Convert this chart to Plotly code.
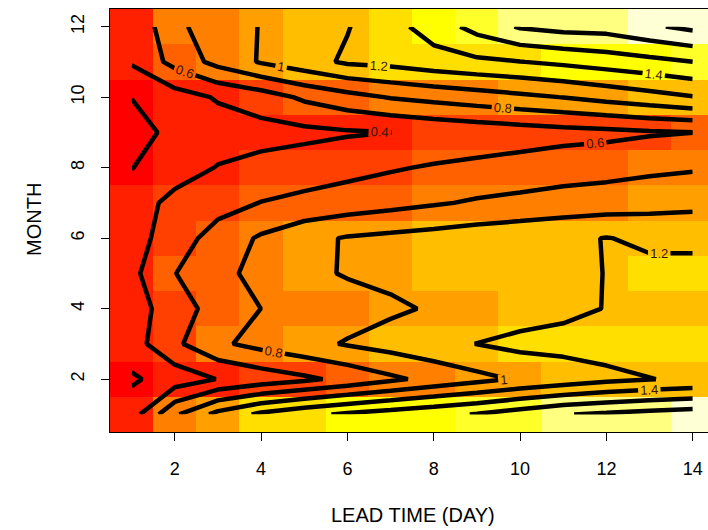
import plotly.graph_objects as go

# Lead time (days) and months
days = list(range(1, 15))
months = list(range(1, 13))

# Values per month (rows: month 1..12, columns: lead day 1..14)
m01 = [0.31, 0.77, 1.06, 1.24, 1.35, 1.43, 1.49, 1.55, 1.61, 1.70, 1.79, 1.83, 1.87, 1.90]
m02 = [0.172, 0.289, 0.406, 0.484, 0.56, 0.654, 0.762, 0.857, 0.943, 1.02, 1.08, 1.15, 1.195, 1.23]
m03 = [0.314, 0.56, 0.765, 0.864, 0.942, 1.016, 1.078, 1.14, 1.203, 1.256, 1.27, 1.28, 1.30, 1.32]
m04 = [0.30, 0.514, 0.675, 0.801, 0.856, 0.912, 0.968, 1.02, 1.067, 1.10, 1.15, 1.207, 1.215, 1.22]
m05 = [0.351, 0.595, 0.745, 0.859, 0.953, 1.016, 1.047, 1.078, 1.11, 1.14, 1.17, 1.203, 1.24, 1.28]
m06 = [0.314, 0.506, 0.68, 0.826, 0.942, 1.016, 1.047, 1.078, 1.11, 1.14, 1.17, 1.205, 1.17, 1.14]
m07 = [0.29, 0.465, 0.53, 0.605, 0.65, 0.69, 0.735, 0.78, 0.823, 0.85, 0.88, 0.90, 0.925, 0.953]
m08 = [0.195, 0.30, 0.41, 0.46, 0.50, 0.54, 0.58, 0.62, 0.65, 0.68, 0.71, 0.73, 0.76, 0.78]
m09 = [0.10, 0.267, 0.30, 0.33, 0.35, 0.38, 0.399, 0.44, 0.47, 0.50, 0.53, 0.55, 0.58, 0.598]
m10 = [0.205, 0.31, 0.42, 0.50, 0.635, 0.731, 0.813, 0.861, 0.909, 0.957, 1.005, 1.067, 1.128, 1.19]
m11 = [0.42, 0.665, 0.863, 1.018, 1.123, 1.23, 1.26, 1.32, 1.36, 1.395, 1.44, 1.49, 1.54, 1.598]
m12 = [0.42, 0.76, 0.89, 1.01, 1.10, 1.19, 1.33, 1.49, 1.67, 1.82, 1.87, 1.88, 1.97, 2.05]

z = [m01, m02, m03, m04, m05, m06, m07, m08, m09, m10, m11, m12]

x_ticks = [2, 4, 6, 8, 10, 12, 14]
y_ticks = [2, 4, 6, 8, 10, 12]

# R heat.colors(12)
heat = ["#FF0000", "#FF2000", "#FF4000", "#FF6000", "#FF8000", "#FF9F00",
        "#FFBF00", "#FFDF00", "#FFFF00", "#FFFF2A", "#FFFF80", "#FFFFD5"]
n = len(heat)
cscale = []
for i, c in enumerate(heat):
    cscale.append([i / n, c])
    cscale.append([(i + 1) / n, c])

zmin = min(min(r) for r in z)
zmax = max(max(r) for r in z)

FONT = "Liberation Sans, Arial, sans-serif"

fig = go.Figure()
fig.add_trace(go.Heatmap(
    x=days, y=months, z=z, colorscale=cscale, zmin=zmin, zmax=zmax,
    showscale=False, hoverinfo="skip"))
# labelled contour levels
fig.add_trace(go.Contour(
    x=days, y=months, z=z,
    contours=dict(start=0.2, end=1.4, size=0.2, coloring="none",
                  showlabels=True, labelformat=".1~f",
                  labelfont=dict(size=13, color="#3a1500", family=FONT)),
    line=dict(color="black", width=4.5, smoothing=0),
    showscale=False, hoverinfo="skip"))
# upper contour levels (unlabelled in the reference)
fig.add_trace(go.Contour(
    x=days, y=months, z=z,
    contours=dict(start=1.6, end=2.0, size=0.2, coloring="none",
                  showlabels=False),
    line=dict(color="black", width=4.5, smoothing=0),
    showscale=False, hoverinfo="skip"))

L, T, B = 110, 9, 98
W, H = 708, 530
pw = W - L
ph = H - T - B
px_per_day = 43.17
fig.update_layout(
    width=W, height=H,
    margin=dict(l=L, r=0, t=T, b=B, pad=0),
    paper_bgcolor="white", plot_bgcolor="white",
    font=dict(family=FONT, color="black"),
    showlegend=False,
    xaxis=dict(range=[0.5, 0.5 + pw / px_per_day], tickvals=x_ticks,
               ticks="outside", ticklen=8, tickwidth=1, tickcolor="black",
               showline=True, linecolor="black", linewidth=1, mirror=True,
               showgrid=False, zeroline=False, tickfont=dict(size=18),
               ticklabelstandoff=12),
    yaxis=dict(range=[0.5, 12.5], tickvals=y_ticks,
               ticks="outside", ticklen=8, tickwidth=1, tickcolor="black",
               showline=True, linecolor="black", linewidth=1, mirror=False,
               showgrid=False, zeroline=False, tickfont=dict(size=18),
               tickangle=-90, ticklabelstandoff=10),
    annotations=[
        dict(text="LEAD TIME (DAY)", xref="paper", yref="paper",
             x=(413 - L) / pw, y=(H - B - 515) / ph, xanchor="center",
             yanchor="middle", showarrow=False, font=dict(size=20)),
        dict(text="MONTH", xref="paper", yref="paper",
             x=(34 - L) / pw, y=(H - B - 220) / ph, xanchor="center",
             yanchor="middle", showarrow=False, textangle=-90,
             font=dict(size=20)),
    ],
)

fig.write_html("out.html")
